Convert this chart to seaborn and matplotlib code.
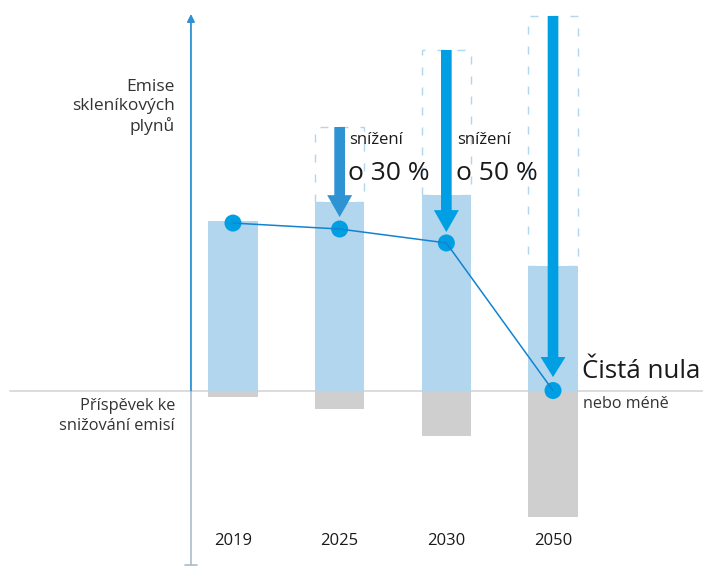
import matplotlib
matplotlib.use("Agg")
import matplotlib.pyplot as plt
from matplotlib.patches import Rectangle, FancyArrow
import seaborn as sns
import pandas as pd

# ---- data ----
years = ["2019", "2025", "2030", "2050"]
emissions = [100.0, 110.9, 115.0, 73.2]          # light blue bars (above baseline)
contribution = [-3.8, -10.9, -26.8, -74.4]       # grey bars (below baseline)
net = [98.5, 95.0, 86.8, 0.0]                    # dots / line
reference = [None, 155.0, 200.3, 220.3]          # dashed boxes (unreduced level)
arrow_tips = [None, 102.0, 93.2, 7.9]
reduction_labels = [None, "o 30 %", "o 50 %", None]

sns.set_style("white")
plt.rcParams['font.family'] = ['Open Sans', 'DejaVu Sans']

W, H = 703, 567
fig = plt.figure(figsize=(W / 100, H / 100), dpi=100)
ax = fig.add_axes([0, 0, 1, 1])

LIGHT = "#b2d6ee"
GREY = "#cfcfcf"
BLUE = "#009fe3"
DARKBLUE = "#2d93d3"
TXT = "#1a1a1a"

df = pd.DataFrame({"year": years, "emissions": emissions, "contribution": contribution})
bw = 0.46
sns.barplot(data=df, x="year", y="emissions", color=LIGHT, saturation=1, width=bw,
            ax=ax, zorder=1, linewidth=0, edgecolor="none")
sns.barplot(data=df, x="year", y="contribution", color=GREY, saturation=1, width=bw,
            ax=ax, zorder=1, linewidth=0, edgecolor="none")

# dashed reference boxes and reduction arrows
for i, (ref, top, tip) in enumerate(zip(reference, emissions, arrow_tips)):
    if ref is None:
        continue
    ax.add_patch(Rectangle((i - bw / 2, top), bw, ref - top, fill=False,
                           ec=LIGHT, lw=1.0, ls=(0, (5.8, 8.6)), zorder=2))
    col = DARKBLUE if i == 1 else BLUE
    hl = 11.8 if i == 3 else 12.9
    ax.add_patch(FancyArrow(i, ref, 0, tip - ref, width=0.1, head_width=0.234,
                            head_length=hl, length_includes_head=True,
                            color=col, lw=0, zorder=3))

# net line and dots
xs = list(range(len(years)))
sns.scatterplot(x=xs, y=net, s=150, color=BLUE, edgecolor="none", ax=ax, zorder=4)
sns.lineplot(x=xs, y=net, color="#1283d2", lw=1.1, ax=ax, zorder=5)

# limits mapping pixels
ax.set_xlim(-2.184, 4.406)
ax.set_ylim(-103.8, 229.7)
ax.axis("off")

# baseline
ax.axhline(0, xmin=10 / W, xmax=1, color="#d6d6d6", lw=1.2, zorder=0)

# vertical axis
xa = -0.394
ax.annotate("", xy=(xa, 221.5), xytext=(xa, 0),
            arrowprops=dict(arrowstyle="-|>", color="#2f90d2", lw=1.3, mutation_scale=11,
                            shrinkA=0, shrinkB=0), zorder=6)
ax.plot([xa, xa], [0, -102.6], color="#a9bccb", lw=1.2, zorder=0)
ax.plot([xa - 0.055, xa + 0.055], [-102.6, -102.6], color="#a9bccb", lw=1.2, zorder=0)

# year labels
for i, y in enumerate(years):
    ax.text(i, -88.5, y, ha="center", va="center", fontsize=12, color=TXT)

def ftext(x, y, s, **kw):
    fig.text(x / W, 1 - y / H, s, **kw)

ftext(175, 107, "Emise\nskleníkových\nplynů", ha="right", va="center", fontsize=12.5,
      color="#333333", linespacing=1.25)
ftext(175, 416, "Příspěvek ke\nsnižování emisí", ha="right", va="center", fontsize=11.8,
      color="#333333", linespacing=1.32)

for i, lab in enumerate(reduction_labels):
    if lab is None:
        continue
    px = 349 if i == 1 else 457
    ftext(px, 140, "snížení", ha="left", va="center", fontsize=12, color=TXT)
    ftext(px - 1, 174, lab, ha="left", va="center", fontsize=19, color=TXT)

ftext(582, 371, "Čistá nula", ha="left", va="center", fontsize=18.6, color=TXT)
ftext(583, 404, "nebo méně", ha="left", va="center", fontsize=11.6, color="#333333")

fig.savefig("out.png", dpi=100)
